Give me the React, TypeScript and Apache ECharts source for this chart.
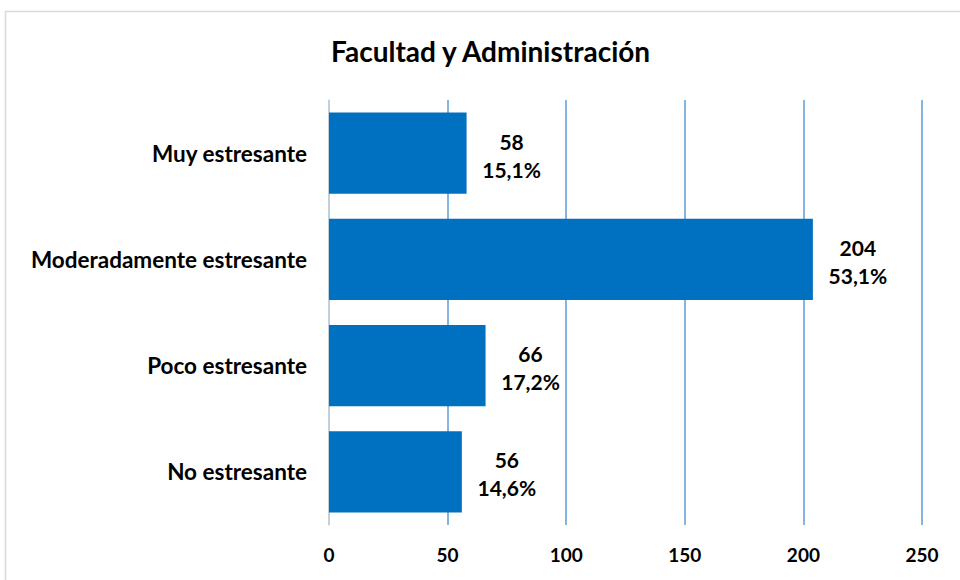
import React, { useEffect, useRef } from "react";
import * as echarts from "echarts";

const categories = ["No estresante", "Poco estresante", "Moderadamente estresante", "Muy estresante"];
const values = [56, 66, 204, 58];
const percents = ["14,6%", "17,2%", "53,1%", "15,1%"];
const xTicks = [0, 50, 100, 150, 200, 250];

const FONT = "Lato, 'Open Sans', sans-serif";

export default function App() {
  const ref = useRef<HTMLDivElement>(null);
  useEffect(() => {
    const chart = echarts.init(ref.current!, undefined, { renderer: "svg" });
    chart.setOption({
      animation: false,
      backgroundColor: "#ffffff",
      title: {
        text: "Facultad y Administración",
        left: 326,
        top: 32,
        textStyle: { fontFamily: FONT, fontWeight: "bold", fontSize: 28, color: "#000000" },
      },
      graphic: [
        {
          type: "rect",
          shape: { x: 5.5, y: 11.5, width: 1000, height: 1000 },
          style: { fill: "none", stroke: "#d9d9d9", lineWidth: 1.5 },
          silent: true,
        },
      ],
      grid: { left: 329, right: 38, top: 100, bottom: 55, containLabel: false },
      xAxis: {
        type: "value",
        min: xTicks[0],
        max: xTicks[xTicks.length - 1],
        interval: 50,
        axisLine: { show: false },
        axisTick: { show: false },
        splitLine: { show: true, lineStyle: { color: "#5b9bd5", width: 1.5 } },
        axisLabel: {
          margin: 20,
          fontFamily: FONT,
          fontWeight: "bold",
          fontSize: 19,
          color: "#000000",
        },
      },
      yAxis: {
        type: "category",
        data: categories,
        axisLine: { show: true, lineStyle: { color: "#d9d9d9", width: 1.5 } },
        axisTick: { show: false },
        axisLabel: {
          margin: 22,
          fontFamily: FONT,
          fontWeight: "bold",
          fontSize: 22.5,
          color: "#000000",
        },
      },
      series: [
        {
          type: "bar",
          data: values,
          barCategoryGap: "23.5%",
          itemStyle: { color: "#0070c0" },
          label: {
            show: true,
            position: "right",
            distance: 45,
            align: "center",
            verticalAlign: "middle",
            lineHeight: 28,
            offset: [0, 2],
            fontFamily: FONT,
            fontWeight: "bold",
            fontSize: 21,
            color: "#000000",
            formatter: (p: any) => `${values[p.dataIndex]}\n${percents[p.dataIndex]}`,
          },
        },
      ],
    });
    return () => chart.dispose();
  }, []);
  return (
    <div
      ref={ref}
      style={{ position: "absolute", left: 0, top: 0, width: 960, height: 580 }}
    />
  );
}
